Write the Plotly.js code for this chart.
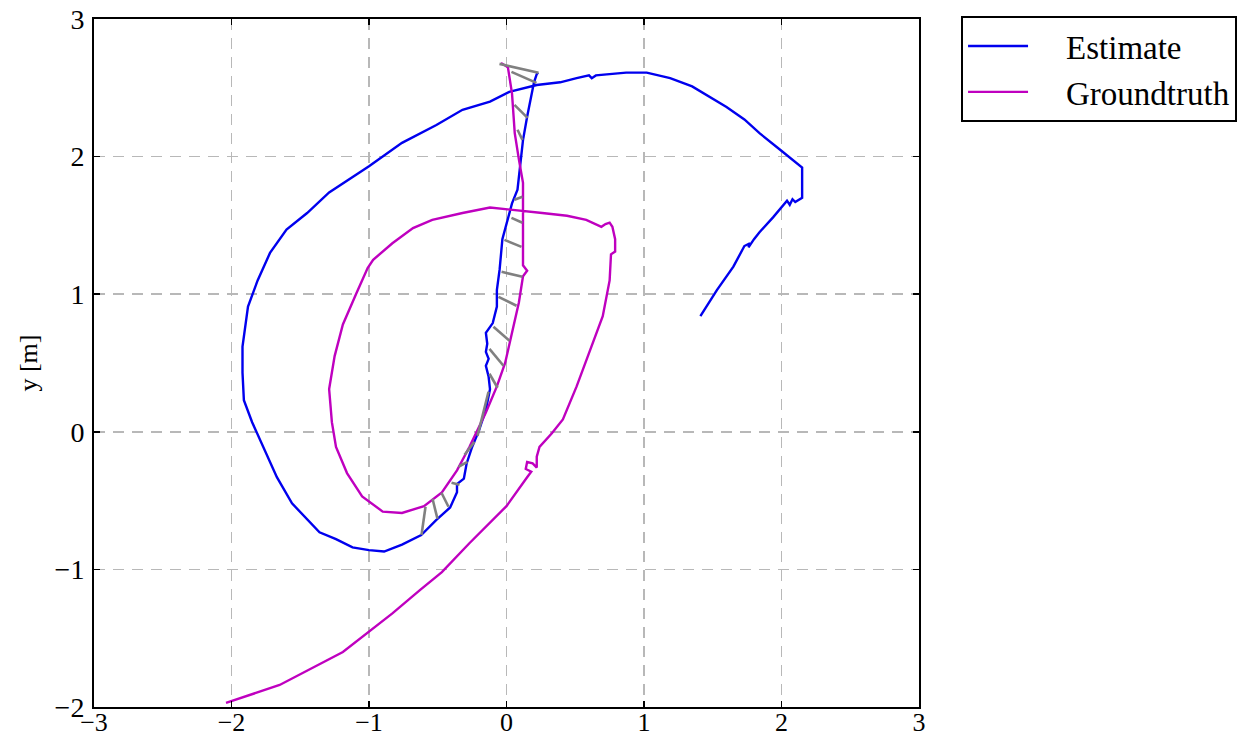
<!DOCTYPE html>
<html>
<head>
<meta charset="utf-8">
<script src="https://cdn.plot.ly/plotly-3.0.1.min.js"></script>
<style>html,body{margin:0;padding:0;background:#fff;}#chart{width:1246px;height:739px;}</style>
</head>
<body>
<div id="chart"></div>
<script>
// Estimate trajectory (x, y in metres)
const estimateX = [1.41,1.53,1.65,1.73,1.77,1.76,1.80,1.84,1.94,2.01,2.04,2.06,2.08,2.10,2.15,2.15,2.08,1.99,1.84,1.73,1.60,1.45,1.35,1.19,1.02,0.87,0.65,0.62,0.60,0.51,0.39,0.22,0.02,-0.12,-0.32,-0.51,-0.76,-1.00,-1.29,-1.45,-1.60,-1.72,-1.81,-1.88,-1.92,-1.92,-1.91,-1.85,-1.77,-1.67,-1.56,-1.45,-1.36,-1.24,-1.12,-1.00,-0.89,-0.76,-0.62,-0.51,-0.41,-0.36,-0.36,-0.31,-0.29,-0.25,-0.20,-0.15,-0.12,-0.13,-0.15,-0.13,-0.15,-0.14,-0.15,-0.10,-0.07,-0.07,-0.05,-0.03,0.01,0.04,0.08,0.09,0.12,0.15,0.20,0.22,0.23];
const estimateY = [0.84,1.03,1.20,1.35,1.37,1.34,1.40,1.45,1.56,1.64,1.68,1.65,1.69,1.67,1.70,1.92,1.98,2.05,2.17,2.27,2.36,2.45,2.51,2.57,2.61,2.61,2.59,2.57,2.59,2.57,2.54,2.52,2.47,2.40,2.34,2.23,2.10,1.93,1.74,1.59,1.47,1.30,1.10,0.91,0.62,0.43,0.23,0.07,-0.11,-0.33,-0.52,-0.64,-0.73,-0.78,-0.84,-0.86,-0.87,-0.82,-0.75,-0.64,-0.55,-0.44,-0.38,-0.34,-0.23,-0.11,0.01,0.16,0.31,0.40,0.48,0.53,0.58,0.64,0.72,0.79,0.91,1.03,1.18,1.40,1.54,1.66,1.76,1.85,2.12,2.29,2.54,2.60,2.61];

// Groundtruth trajectory
const groundtruthX = [-2.04,-1.65,-1.19,-1.01,-0.83,-0.63,-0.47,-0.27,0.00,0.15,0.18,0.14,0.15,0.19,0.22,0.22,0.24,0.33,0.41,0.51,0.60,0.70,0.75,0.76,0.79,0.79,0.77,0.75,0.72,0.69,0.58,0.44,0.26,0.09,-0.12,-0.32,-0.54,-0.68,-0.83,-0.97,-1.01,-1.09,-1.19,-1.25,-1.29,-1.27,-1.24,-1.16,-1.05,-0.90,-0.76,-0.60,-0.47,-0.36,-0.27,-0.15,-0.07,-0.01,0.04,0.09,0.12,0.15,0.12,0.12,0.12,0.09,0.06,0.04,0.01,-0.04];
const groundtruthY = [-1.97,-1.84,-1.60,-1.46,-1.32,-1.15,-1.02,-0.81,-0.54,-0.33,-0.29,-0.27,-0.22,-0.23,-0.26,-0.18,-0.11,-0.01,0.09,0.33,0.57,0.84,1.10,1.29,1.31,1.40,1.49,1.52,1.51,1.49,1.54,1.57,1.59,1.61,1.63,1.59,1.54,1.48,1.37,1.25,1.19,1.01,0.78,0.55,0.31,0.07,-0.11,-0.30,-0.47,-0.58,-0.59,-0.54,-0.44,-0.28,-0.11,0.14,0.33,0.50,0.72,0.94,1.13,1.17,1.21,1.61,1.81,1.98,2.17,2.46,2.65,2.68];

// Correspondence segments: estimate point -> groundtruth point
const corrEstX = [0.233,0.218,0.153,0.116,0.058,0.036,-0.015,-0.036,-0.058,-0.095,-0.124,-0.124,-0.211,-0.305,-0.284,-0.342,-0.422,-0.502,-0.618];
const corrEstY = [2.609,2.536,2.282,2.122,1.686,1.555,1.395,1.163,0.981,0.763,0.603,0.422,-0.030,-0.167,-0.218,-0.385,-0.545,-0.632,-0.749];
const corrGtX  = [-0.051,0.036,0.058,0.080,0.116,0.116,0.109,0.116,0.073,0.022,-0.022,-0.065,-0.131,-0.233,-0.349,-0.400,-0.473,-0.538,-0.589];
const corrGtY  = [2.674,2.616,2.376,2.195,1.708,1.519,1.344,1.126,0.916,0.661,0.480,0.320,0.291,-0.073,-0.254,-0.371,-0.443,-0.487,-0.545];

const xTickVals = [-3,-2,-1,0,1,2,3];
const yTickVals = [-2,-1,0,1,2,3];
const seriesNames = ['Estimate', 'Groundtruth'];

const segX = [], segY = [];
for (let i = 0; i < corrEstX.length; i++) {
  segX.push(corrEstX[i], corrGtX[i], null);
  segY.push(corrEstY[i], corrGtY[i], null);
}

const serif = 'Liberation Serif, DejaVu Serif, serif';
const pad = '\u00a0\u00a0\u00a0\u00a0';

const traces = [
  {x: estimateX, y: estimateY, mode: 'lines', name: pad + seriesNames[0],
   line: {color: '#0000ee', width: 2.4}},
  {x: groundtruthX, y: groundtruthY, mode: 'lines', name: pad + seriesNames[1],
   line: {color: '#bf00bf', width: 2.4}},
  {x: segX, y: segY, mode: 'lines', showlegend: false, hoverinfo: 'skip',
   line: {color: '#808080', width: 2.6}}
];

const axisCommon = {
  showgrid: true, gridcolor: '#b8b8b8', gridwidth: 1.5, griddash: '11px,8px',
  zeroline: false, showline: true, linecolor: '#000', linewidth: 2,
  mirror: 'ticks', ticks: 'inside', ticklen: 6, tickcolor: '#000', tickwidth: 1.5,
  tickfont: {family: serif, size: 28, color: '#000'},
  automargin: false
};

const layout = {
  width: 1246, height: 739,
  margin: {l: 94, r: 327, t: 19, b: 32},
  paper_bgcolor: '#fff', plot_bgcolor: '#fff',
  xaxis: Object.assign({}, axisCommon, {range: [-3, 3], tickvals: xTickVals,
    tickfont: {family: serif, size: 26, color: '#000'}, ticklabelstandoff: -9}),
  yaxis: Object.assign({}, axisCommon, {range: [-2, 3], tickvals: yTickVals, ticklabelstandoff: 2,
    title: {text: 'y [m]', font: {family: serif, size: 26, color: '#000'}, standoff: 10}}),
  showlegend: true,
  legend: {xref: 'container', yref: 'container', x: 0.7713, y: 0.9783,
    xanchor: 'left', yanchor: 'top',
    bordercolor: '#000', borderwidth: 2, bgcolor: '#fff',
    font: {family: serif, size: 33, color: '#000'}, itemwidth: 60,
    tracegroupgap: 0}
};

Plotly.newPlot('chart', traces, layout, {displayModeBar: false, staticPlot: true});
</script>
</body>
</html>
